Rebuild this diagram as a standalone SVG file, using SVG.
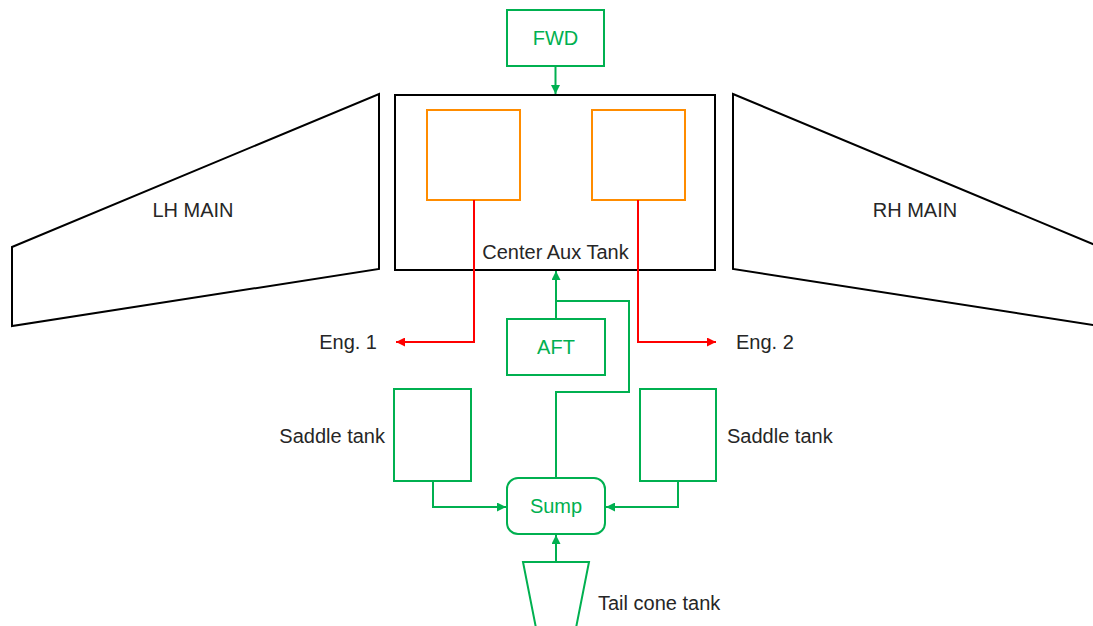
<svg xmlns="http://www.w3.org/2000/svg" width="1093" height="626" viewBox="0 0 1093 626">
<style>
.lbl{font-family:"Liberation Sans",Arial,sans-serif;font-size:20px;fill:#262626}
.glbl{font-family:"Liberation Sans",Arial,sans-serif;font-size:20px;fill:#00B050}
.blk{fill:#fff;stroke:#000;stroke-width:2}
.grn{fill:#fff;stroke:#00B050;stroke-width:2}
.org{fill:#fff;stroke:#FF8C00;stroke-width:2}
.gl{fill:none;stroke:#00B050;stroke-width:2}
.rl{fill:none;stroke:#FF0000;stroke-width:2}
</style>
<defs>
<marker id="ag" viewBox="0 0 10 10" refX="10" refY="5" markerWidth="4.5" markerHeight="4.5" orient="auto" markerUnits="strokeWidth"><path d="M0,0 L10,5 L0,10 z" fill="#00B050"/></marker>
<marker id="ar" viewBox="0 0 10 10" refX="10" refY="5" markerWidth="4.5" markerHeight="4.5" orient="auto" markerUnits="strokeWidth"><path d="M0,0 L10,5 L0,10 z" fill="#FF0000"/></marker>
</defs>
<rect width="1093" height="626" fill="#fff"/>
<g id="lh-main"><polygon class="blk" points="12,247 379,94 379,269 12,326"/><text class="lbl" x="193" y="217" text-anchor="middle">LH MAIN</text></g>
<g id="rh-main"><polygon class="blk" points="733,94 1100,247 1100,326 733,269"/><text class="lbl" x="915" y="217" text-anchor="middle">RH MAIN</text></g>
<g id="center-aux"><rect class="blk" x="395" y="95" width="320" height="175"/><text class="lbl" x="555.5" y="259" text-anchor="middle">Center Aux Tank</text></g>
<g id="left-collector"><rect class="org" x="427" y="110" width="93" height="90"/></g>
<g id="right-collector"><rect class="org" x="592" y="110" width="93" height="90"/></g>
<g id="fwd"><rect class="grn" x="507" y="10" width="97" height="56"/><text class="glbl" x="555.5" y="45" text-anchor="middle">FWD</text></g>
<g id="aft"><rect class="grn" x="507" y="319" width="98" height="56"/><text class="glbl" x="556" y="354" text-anchor="middle">AFT</text></g>
<g id="saddle-left"><rect class="grn" x="394" y="389" width="77" height="92"/><text class="lbl" x="385" y="443" text-anchor="end">Saddle tank</text></g>
<g id="saddle-right"><rect class="grn" x="640" y="389" width="76" height="92"/><text class="lbl" x="727" y="443">Saddle tank</text></g>
<g id="sump"><rect class="grn" x="507" y="478" width="98" height="56" rx="11"/><text class="glbl" x="556" y="513" text-anchor="middle">Sump</text></g>
<g id="tail-cone"><polygon class="grn" points="523,562 589,562 576,628 536,628"/><text class="lbl" x="598" y="610">Tail cone tank</text></g>
<g id="eng1"><text class="lbl" x="377" y="349" text-anchor="end">Eng. 1</text></g>
<g id="eng2"><text class="lbl" x="736" y="349">Eng. 2</text></g>
<g id="connectors">
<path class="gl" d="M555.5,66 V94" marker-end="url(#ag)"/>
<path class="gl" d="M556,319 V271" marker-end="url(#ag)"/>
<path class="gl" d="M556,478 V392 H629 V301 H556"/>
<path class="gl" d="M433,481 V507 H506" marker-end="url(#ag)"/>
<path class="gl" d="M678,481 V507 H606" marker-end="url(#ag)"/>
<path class="gl" d="M556,562 V535" marker-end="url(#ag)"/>
<path class="rl" d="M474,200 V342 H396" marker-end="url(#ar)"/>
<path class="rl" d="M638,200 V342 H716" marker-end="url(#ar)"/>
</g>
</svg>
